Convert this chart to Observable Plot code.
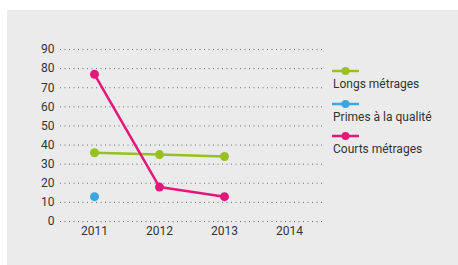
<!DOCTYPE html>
<html>
<head>
<meta charset="utf-8">
<script src="https://cdn.jsdelivr.net/npm/d3@7"></script>
<script src="https://cdn.jsdelivr.net/npm/@observablehq/plot@0.6"></script>
<style>
  html, body { margin: 0; padding: 0; background: #ffffff; }
  #wrap { position: relative; width: 458px; height: 265px; overflow: hidden; font-family: Roboto, "Noto Sans", sans-serif; }
  #panel { position: absolute; left: 7px; top: 10px; width: 451px; height: 255px; background: #ebebeb; }
  #chart { position: absolute; left: 0; top: 0; }
  #legend { position: absolute; left: 332px; top: 66px; font-size: 12px; color: #333; }
  .item { height: 32.5px; }
  .item svg { display: block; }
  .item span { display: block; margin-top: 1px; margin-left: 1px; }
</style>
</head>
<body>
<div id="wrap">
  <div id="panel"></div>
  <div id="chart"></div>
  <div id="legend"></div>
</div>
<script>
const years = ["2011", "2012", "2013", "2014"];
const seriesNames = ["Longs métrages", "Primes à la qualité", "Courts métrages"];
const seriesColors = ["#96c11f", "#38a7e0", "#e5177a"];
const longsYears = ["2011", "2012", "2013"];
const longsValues = [36, 35, 34];
const primesYears = ["2011"];
const primesValues = [13];
const courtsYears = ["2011", "2012", "2013"];
const courtsValues = [77, 18, 13];
const yTicks = [0, 10, 20, 30, 40, 50, 60, 70, 80, 90];

const data = [];
[[longsYears, longsValues], [primesYears, primesValues], [courtsYears, courtsValues]].forEach(([ys, vs], i) => {
  ys.forEach((y, j) => data.push({series: seriesNames[i], year: y, value: vs[j]}));
});

const color = {domain: seriesNames, range: seriesColors};

const chart = Plot.plot({
  width: 458,
  height: 265,
  marginLeft: 60,
  marginRight: 135,
  marginTop: 49,
  marginBottom: 44,
  style: {background: "transparent", fontFamily: "Roboto, 'Noto Sans', sans-serif", fontSize: "12px", color: "#333"},
  x: {type: "point", domain: years, padding: 0.5, label: null},
  y: {domain: [0, 90], label: null},
  color,
  marks: [
    Plot.ruleY(yTicks, {stroke: "#555", strokeWidth: 1, strokeDasharray: "1,3.5", strokeOpacity: 0.85}),
    Plot.axisY(yTicks, {tickSize: 0, tickPadding: 6, label: null, fill: "#333", fontSize: 12}),
    Plot.axisX({tickSize: 0, tickPadding: 5, label: null, fill: "#333", fontSize: 12}),
    Plot.line(data, {x: "year", y: "value", z: "series", stroke: "series", strokeWidth: 2.5}),
    Plot.dot(data, {x: "year", y: "value", fill: "series", r: 4.5, stroke: null})
  ]
});
document.getElementById("chart").appendChild(chart);

const legend = document.getElementById("legend");
seriesNames.forEach((name, i) => {
  const div = document.createElement("div");
  div.className = "item";
  div.innerHTML = `<svg width="28" height="10"><line x1="0" x2="27" y1="5" y2="5" stroke="${seriesColors[i]}" stroke-width="2.5"/><circle cx="13.5" cy="5" r="4" fill="${seriesColors[i]}"/></svg><span>${name}</span>`;
  legend.appendChild(div);
});
</script>
</body>
</html>
